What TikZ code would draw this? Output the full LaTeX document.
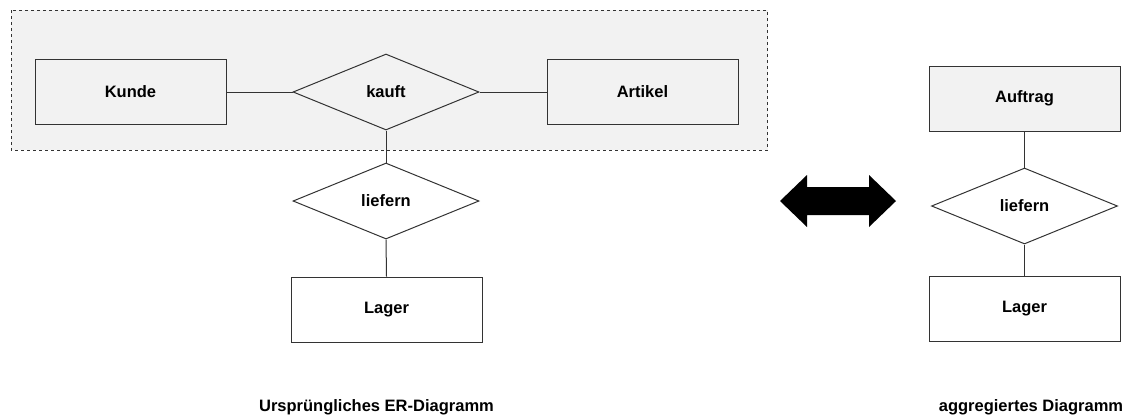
\documentclass[tikz,border=0pt]{standalone}
\usepackage{fontspec}
\setmainfont{Liberation Sans}
\usetikzlibrary{shapes.geometric}
\definecolor{groupfill}{HTML}{F2F2F2}
\definecolor{linegray}{HTML}{333333}
\begin{document}
\begin{tikzpicture}[x=1pt,y=-1pt,
  every node/.style={font=\fontsize{16.5}{18}\selectfont\bfseries},
  entity/.style={draw=linegray,line width=1pt,rectangle,minimum width=191pt,minimum height=65pt,inner sep=0pt},
  relation/.style={draw=linegray,line width=1pt,diamond,minimum width=186pt,minimum height=76pt,inner sep=0pt,aspect=2.45},
  conn/.style={draw=linegray,line width=1pt},
  caption/.style={anchor=base,inner sep=0pt}]
\useasboundingbox (0,0) rectangle (1137,416);
% aggregation group
\draw[draw=linegray,dashed,line width=0.8pt,fill=groupfill] (11,10) rectangle (767.5,150);
% left diagram
\node[entity] (kunde) at (130.5,92) {Kunde};
\node[relation] (kauft) at (386,92) {kauft};
\node[entity] (artikel) at (642.5,92) {Artikel};
\node[relation,fill=white] (liefernA) at (386,201) {liefern};
\node[entity,fill=white] (lagerA) at (386.5,309.5) {Lager};
\draw[conn] (kunde.east) -- (kauft.west);
\draw[conn] (kauft.east) -- (artikel.west);
\draw[conn] (kauft.south) -- (liefernA.north);
\draw[conn] (liefernA.south) -- (lagerA.north);
% double arrow
\fill[black] (780,201) -- (807,175) -- (807,187) -- (869,187) -- (869,175) -- (896,201)
  -- (869,227) -- (869,215) -- (807,215) -- (807,227) -- cycle;
% right diagram
\node[entity,fill=groupfill] (auftrag) at (1024.5,98.5) {Auftrag};
\node[relation,fill=white] (liefernB) at (1024.5,206) {liefern};
\node[entity,fill=white] (lagerB) at (1024.5,309) {Lager};
\draw[conn] (auftrag.south) -- (liefernB.north);
\draw[conn] (liefernB.south) -- (lagerB.north);
% captions
\node[caption] (capA) at (376.5,411) {Ursprüngliches ER-Diagramm};
\node[caption] (capB) at (1031,411) {aggregiertes Diagramm};
\end{tikzpicture}
\end{document}
